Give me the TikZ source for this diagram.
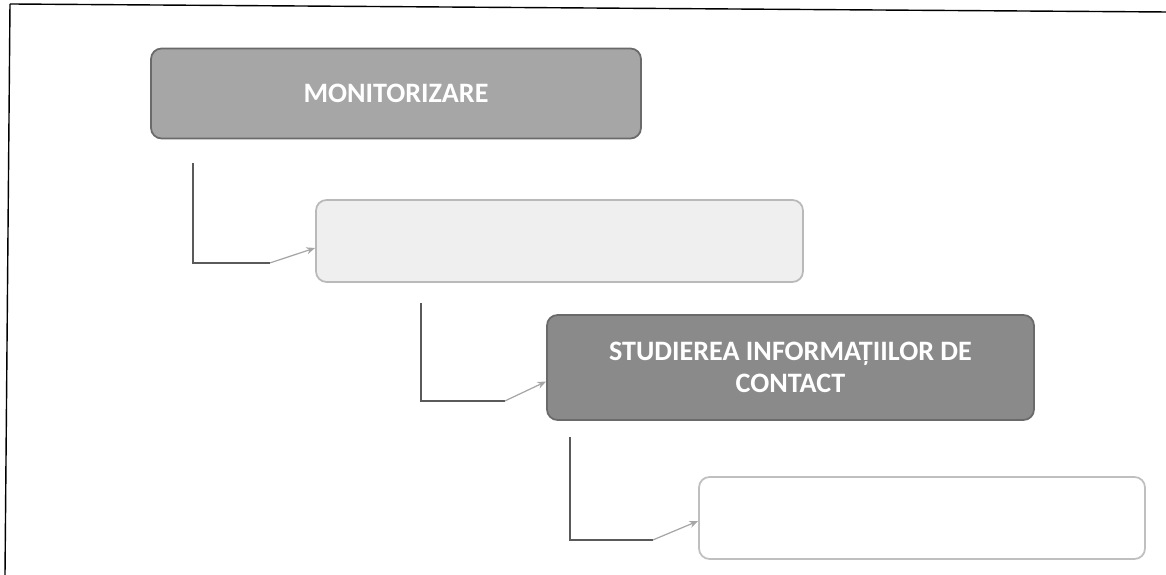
\documentclass[tikz,border=0pt]{standalone}
\usepackage{fontspec}
\setmainfont{Carlito}
\usepackage{tikz}
\usetikzlibrary{calc,arrows.meta}
\usepackage{xcolor}
\definecolor{stepmid}{HTML}{A6A6A6}
\definecolor{stepdark}{HTML}{8A8A8A}
\definecolor{steplight}{HTML}{EFEFEF}
\definecolor{stepedge}{HTML}{6A6A6A}
\definecolor{linkgray}{HTML}{5A5A5A}

\tikzset{
  stepbox/.style={draw=stepedge, line width=1pt, rounded corners=6pt,
    minimum width=9.8cm, minimum height=1.8cm, align=center,
    text=white, font=\fontsize{16}{18}\selectfont\bfseries},
  link/.style={draw=linkgray, line width=1.1pt},
  linktip/.style={draw=gray!70, line width=0.7pt, -{Stealth[length=5pt,width=4pt]}}
}

\begin{document}
\begin{tikzpicture}
    \useasboundingbox (0,0) rectangle (23.32,11.5);
    % scanned page border
    \draw[black, line width=0.8pt] (0.2,11.42) -- (23.32,11.26);
    \draw[black, line width=0.8pt] (0.2,11.42) -- (0.1,0);

    \node[stepbox, fill=stepmid] (mon) at (7.92,9.63) {MONITORIZARE};
    \node[stepbox, fill=steplight, draw=gray!55, minimum width=9.74cm,
          minimum height=1.64cm] (cerc) at (11.19,6.68) {};
    \node[stepbox, fill=stepdark, minimum width=9.74cm, minimum height=2.1cm]
          (info) at (15.81,4.15) {STUDIEREA INFORMAȚIILOR DE\\CONTACT};
    \node[stepbox, fill=white, draw=gray!50, minimum width=8.92cm,
          minimum height=1.64cm] (rez) at (18.44,1.14) {};

    % bent connectors
    \coordinate (s1) at ($(mon.south west)+(0.86,-0.48)$);
    \coordinate (k1) at ($(cerc.south west)+(-0.9,0.4)$);
    \coordinate (s2) at ($(cerc.south west)+(2.12,-0.4)$);
    \coordinate (k2) at ($(info.south west)+(-0.82,0.4)$);
    \coordinate (s3) at ($(info.south west)+(0.48,-0.32)$);
    \coordinate (k3) at ($(rez.south west)+(-0.9,0.4)$);

    \draw[link] (s1) |- (k1);
    \draw[linktip] (k1) -- ([yshift=-0.14cm]cerc.west);
    \draw[link] (s2) |- (k2);
    \draw[linktip] (k2) -- ([yshift=-0.28cm]info.west);
    \draw[link] (s3) |- (k3);
    \draw[linktip] (k3) -- ([yshift=-0.06cm]rez.west);
  \end{tikzpicture}
\end{document}
